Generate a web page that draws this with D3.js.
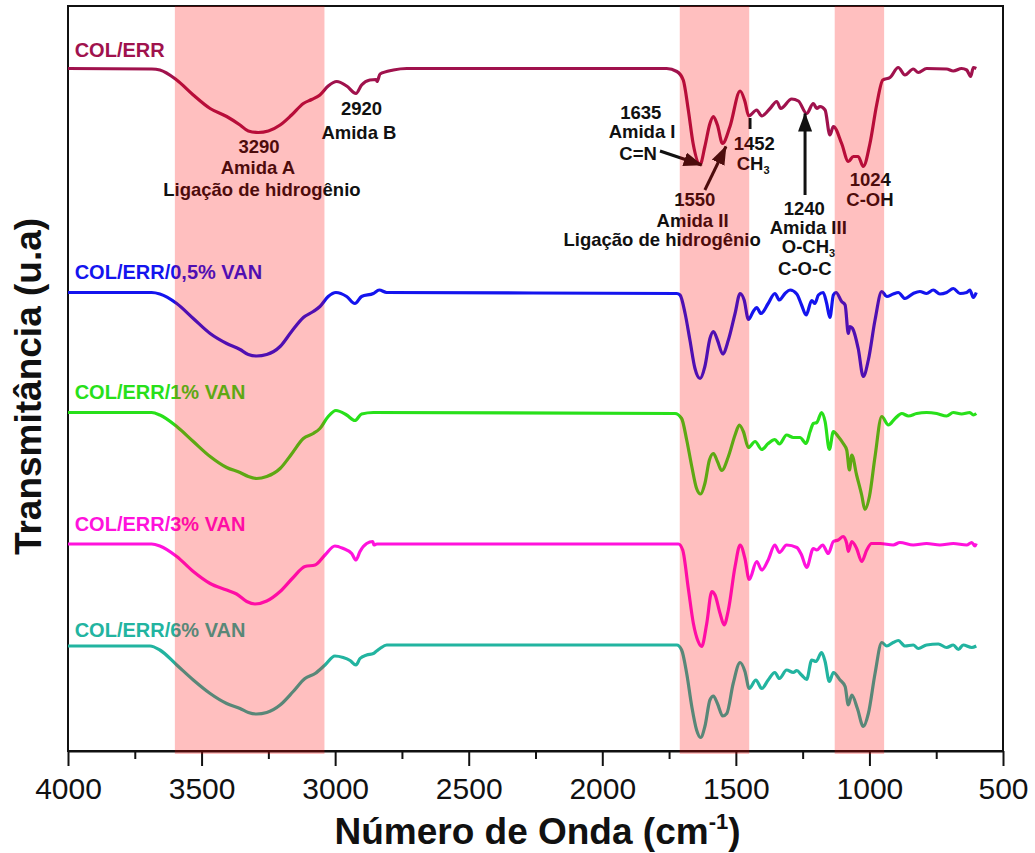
<!DOCTYPE html>
<html>
<head>
<meta charset="utf-8">
<script src="https://cdn.jsdelivr.net/npm/d3@7"></script>
<style>
  html, body { margin: 0; padding: 0; background: #fff; }
  svg { display: block; font-family: "Liberation Sans", Arial, sans-serif; }
</style>
</head>
<body>
<svg id="chart" width="1035" height="853"></svg>
<script>
// FTIR spectra: wavenumber (cm-1) vs. transmittance (a.u., stacked with offsets)
const majorTicks = [4000, 3500, 3000, 2500, 2000, 1500, 1000, 500];
const minorTicks = [3750, 3250, 2750, 2250, 1750, 1250, 750];

const seriesNames = ["COL/ERR", "COL/ERR/0,5% VAN", "COL/ERR/1% VAN", "COL/ERR/3% VAN", "COL/ERR/6% VAN"];
const seriesColors = ["#A0124D", "#1414EE", "#28E01A", "#FF12DC", "#22B4A0"];

const colErr = [
  [4000,136.5],[3686,136.4],[3656,136.2],[3593,134.2],[3531,131.2],[3468,128.5],[3406,126.9],[3356,125.2],
  [3325,124],[3288,123.7],[3250,124],[3206,125.2],[3163,127.2],[3119,129.5],[3088,130.3],[3057,131.2],
  [3026,133],[2994,133.9],[2957,133],[2922,131.5],[2901,133.2],[2870,134.2],[2847,134.3],[2843,133.9],
  [2832,135.4],[2782,136.2],[2732,136.5],[1759,136.5],[1721,135.9],[1697,134.2],[1678,128.2],[1660,121.5],
  [1634,117.3],[1616,120.9],[1597,125.5],[1584,126.9],[1569,125.2],[1550,121.5],[1522,124.9],[1484,132],
  [1466,129.9],[1452,127],[1422,128.2],[1403,127],[1372,128.5],[1347,129.9],[1332,128.5],[1291,130.4],
  [1266,130],[1235,127.5],[1210,129.5],[1197,128.5],[1185,128.9],[1166,128.2],[1148,123.2],[1135,124.9],
  [1104,121.5],[1079,117.9],[1060,118.9],[1042,118.9],[1023,116.9],[998,121.5],[973,129.2],[950,134.2],
  [923,134.7],[892,136.7],[867,135.2],[836,136.4],[817,135.7],[786,136.5],[711,136.4],[686,136],
  [655,136.5],[636,136.2],[621,134.9],[611,136.7],[600,136.5]
];

const van05 = [
  [4000,91.7],[3687,91.7],[3656,91.4],[3593,89.5],[3531,86.5],[3468,83.5],[3406,81.5],[3356,80.3],
  [3325,79.3],[3294,79],[3256,79.3],[3206,80.9],[3163,83.9],[3119,86.7],[3082,87.9],[3057,88.9],
  [3026,90.9],[2997,91.7],[2957,90.9],[2926,89.5],[2901,90.9],[2857,91.5],[2835,92.2],[2807,91.7],
  [1721,91.5],[1709,91.2],[1690,87.5],[1672,82.2],[1653,76.5],[1634,74.5],[1616,76.9],[1597,82.5],
  [1584,83.9],[1569,82.2],[1549,79.4],[1528,82.2],[1503,87.5],[1484,91.5],[1469,90.2],[1453,86.3],
  [1435,87.9],[1422,88.7],[1406,87.5],[1379,89.5],[1354,91.5],[1337,90.2],[1316,91.5],[1297,92.2],
  [1272,91.4],[1254,89.2],[1237,87.2],[1216,90.1],[1204,89.5],[1191,91.2],[1173,91.7],[1160,89.5],
  [1148,86.7],[1135,91.2],[1125,91.7],[1104,89.9],[1091,89.2],[1079,83.5],[1073,84.9],[1063,84.5],
  [1042,80.5],[1023,74.9],[1004,78.2],[979,86.2],[954,91.9],[935,90.9],[911,91.4],[892,91.7],
  [867,90.5],[836,91.5],[811,91.9],[786,91.5],[761,92.2],[736,91.4],[711,91.7],[686,92.5],
  [661,91.5],[636,91.7],[624,92.2],[611,90.7],[600,91.7]
];

const van1 = [
  [4000,67.7],[3687,67.7],[3656,67.2],[3593,64.9],[3531,61.9],[3468,58.9],[3406,56.7],[3356,55.7],
  [3325,54.9],[3294,54.5],[3256,54.9],[3206,56.5],[3163,59.4],[3119,62.5],[3082,63.5],[3057,64.5],
  [3026,66.9],[2997,68.1],[2957,67.2],[2926,66.1],[2901,67.4],[2857,67.7],[1728,67.5],[1703,66.5],
  [1684,62.2],[1665,56.9],[1647,52.5],[1632,51.4],[1616,53.5],[1599,58.2],[1584,59.5],[1569,57.9],
  [1553,56.1],[1528,58.9],[1503,63.2],[1487,65.2],[1472,63.9],[1453,60.7],[1428,61.9],[1403,60.3],
  [1379,61.5],[1354,62.3],[1337,61.4],[1310,63.2],[1285,62.7],[1260,62.7],[1237,61.5],[1222,63.9],
  [1210,65.5],[1197,65.7],[1179,67.7],[1166,65.9],[1150,60.3],[1135,63.9],[1117,62.9],[1098,61.5],
  [1085,60.2],[1075,56.2],[1066,59.2],[1048,55.2],[1029,51.2],[1017,48.3],[1000,50.9],[979,58.9],
  [954,66.9],[929,65.2],[904,66.5],[879,67.5],[854,67],[823,67.5],[786,67.7],[748,67.5],
  [711,67],[686,67.7],[655,67.4],[624,67.7],[611,67.2],[600,67.5]
];

const van3 = [
  [4000,41.4],[3687,41.4],[3656,41],[3593,38.9],[3531,35.9],[3468,33.5],[3406,32.2],[3369,31.4],
  [3331,29.9],[3300,29.4],[3256,30],[3206,31.9],[3157,34.7],[3113,36.9],[3075,37.2],[3038,39.2],
  [3001,41],[2970,40.5],[2938,39.5],[2922,38.2],[2907,39.9],[2882,41.5],[2859,41.9],[2855,41.2],
  [2844,41.4],[1715,41.4],[1699,40.2],[1678,32.5],[1659,25.5],[1641,21.9],[1628,20.9],[1609,25.5],
  [1590,31.9],[1578,31.2],[1559,27.5],[1544,25.2],[1528,28.2],[1503,36.9],[1484,41.2],[1466,38.5],
  [1450,34.3],[1422,37.9],[1403,36.2],[1379,38.2],[1354,41.2],[1337,39.7],[1310,41.2],[1272,40.7],
  [1254,39.2],[1235,36.7],[1210,40.5],[1197,40.2],[1175,41.2],[1154,39.5],[1135,41.9],[1117,42.2],
  [1098,42.9],[1085,41.5],[1079,39.9],[1066,41.9],[1048,40.5],[1029,37.9],[1010,40.2],[992,41.5],
  [960,41.5],[911,41.2],[886,41.7],[836,41.2],[786,41.5],[736,41.2],[686,41.5],[636,41.2],
  [617,41.7],[605,41],[600,41.5]
];

const van6 = [
  [4000,21],[3693,21],[3656,20.2],[3593,17.2],[3531,14.2],[3468,11.5],[3406,9.5],[3356,8.5],
  [3325,7.7],[3294,7.4],[3256,7.7],[3206,9.2],[3157,11.9],[3113,14.5],[3075,15.5],[3038,17.2],
  [3001,19],[2970,18.7],[2944,18.1],[2922,17.2],[2907,18.5],[2882,19.2],[2857,19.5],[2847,19.9],
  [2832,20.5],[2807,21.2],[1721,21.2],[1703,20.2],[1684,15.5],[1665,8.9],[1647,4.2],[1632,2.7],
  [1616,4.9],[1597,10.2],[1584,11],[1569,9.5],[1549,7],[1534,7.5],[1510,13.5],[1484,17.7],
  [1466,15.9],[1450,12.5],[1425,14.2],[1403,12.5],[1379,14.2],[1354,15.7],[1337,14.5],[1310,16.2],
  [1285,15.7],[1272,16.1],[1254,15.2],[1235,14.3],[1216,18.2],[1200,17.9],[1179,19.7],[1166,17.9],
  [1150,13.9],[1135,15.7],[1110,14.2],[1091,12.9],[1079,9.2],[1066,11.2],[1045,8.5],[1023,4.9],
  [1004,7.5],[979,15.5],[954,21.7],[935,21],[911,21.7],[892,22.1],[867,21],[836,21.2],
  [817,20.5],[786,21.2],[742,21.4],[711,20.7],[686,21.2],[667,20.3],[649,21.2],[617,20.7],[600,21]
];

// label anchor (wavenumber, value of text baseline) for each series name
const seriesLabelPos = [[3975,138.8],[3975,94.4],[3975,70.4],[3975,44],[3975,22.8]];

// highlighted bands (cm-1)
const bands = [[3600, 3040], [1710, 1450], [1130, 945]];

// peak annotations: [wavenumber, value, text, anchor]
const peakTexts = [
  [3285, 119.6, "3290", "middle"],
  [3289, 115.4, "Amida A", "middle"],
  [3274, 111.0, "Ligação de hidrogênio", "middle"],
  [2901, 127.2, "2920", "middle"],
  [2911, 122.5, "Amida B", "middle"],
  [1856, 126.5, "1635", "middle"],
  [1851, 122.7, "Amida I", "middle"],
  [1866, 118.3, "C=N", "middle"],
  [1654, 109.0, "1550", "middle"],
  [1662, 104.9, "Amida II", "middle"],
  [1776, 101.0, "Ligação de hidrogênio", "middle"],
  [1431, 120.2, "1452", "middle"],
  [1244, 107.2, "1240", "middle"],
  [1229, 103.4, "Amida III", "middle"],
  [1342, 95.2, "C-O-C", "start"],
  [997, 113.1, "1024", "middle"],
  [998, 109.0, "C-OH", "middle"]
];
// texts with a subscript: [wavenumber, value, main, subscript]
const subTexts = [
  [1497, 116.2, "CH", "3"],
  [1328, 99.6, "O-CH", "3"]
];
// arrows: [from wn, from value, to wn, to value]
const arrows = [
  [1784, 120.0, 1628, 117.2],
  [1616, 112.2, 1537, 120.9],
  [1241, 111.2, 1241, 127.5]
];
// short marker under the 1452 band
const markTicks = [[1447, 126.6, 124.4]];

const svg = d3.select("#chart");
const plotLeft = 68, plotRight = 1003, plotTop = 6, plotBottom = 751;

const x = d3.scaleLinear().domain([4000, 500]).range([plotLeft, plotRight]);
const y = d3.scaleLinear().domain([0, 149]).range([plotBottom, plotTop]);

// frame
svg.append("rect")
  .attr("x", plotLeft).attr("y", plotTop)
  .attr("width", plotRight - plotLeft).attr("height", plotBottom - plotTop)
  .attr("fill", "none").attr("stroke", "#111").attr("stroke-width", 2);

// bottom axis, major ticks
const gx = svg.append("g").attr("transform", `translate(0,${plotBottom})`)
  .call(d3.axisBottom(x).tickValues(majorTicks).tickSize(15).tickSizeOuter(0).tickPadding(12)
    .tickFormat(d3.format("d")));
gx.select(".domain").attr("stroke", "#111").attr("stroke-width", 2);
gx.selectAll(".tick line").attr("stroke", "#111").attr("stroke-width", 2);
gx.selectAll(".tick text").attr("font-size", 30).attr("fill", "#111")
  .attr("font-family", "'Liberation Sans', Arial, sans-serif");

// minor ticks (no labels)
const gm = svg.append("g").attr("transform", `translate(0,${plotBottom})`)
  .call(d3.axisBottom(x).tickValues(minorTicks).tickSize(8).tickSizeOuter(0));
gm.select(".domain").remove();
gm.selectAll(".tick text").remove();
gm.selectAll(".tick line").attr("stroke", "#111").attr("stroke-width", 2);

// spectra
const line = d3.line().x(d => x(d[0])).y(d => y(d[1])).curve(d3.curveMonotoneX);
const allSeries = [colErr, van05, van1, van3, van6];
svg.append("g").selectAll("path").data(allSeries).join("path")
  .attr("d", line)
  .attr("fill", "none")
  .attr("stroke", (d, i) => seriesColors[i])
  .attr("stroke-width", 3.2)
  .attr("stroke-linejoin", "round");

// series names
svg.append("g").selectAll("text").data(seriesNames).join("text")
  .attr("x", (d, i) => x(seriesLabelPos[i][0]))
  .attr("y", (d, i) => y(seriesLabelPos[i][1]))
  .attr("fill", (d, i) => seriesColors[i])
  .attr("font-size", 20).attr("font-weight", "bold")
  .text(d => d);

// annotations
const ann = svg.append("g").attr("fill", "#111").attr("font-size", 18.5).attr("font-weight", "bold");
ann.selectAll("text.pk").data(peakTexts).join("text").attr("class", "pk")
  .attr("x", d => x(d[0])).attr("y", d => y(d[1]))
  .attr("text-anchor", d => d[3])
  .text(d => d[2]);
subTexts.forEach(d => {
  const t = ann.append("text").attr("x", x(d[0])).attr("y", y(d[1]));
  t.append("tspan").text(d[2]);
  t.append("tspan").attr("font-size", 11).attr("dy", 4).text(d[3]);
});

const defs = svg.append("defs");
defs.append("marker").attr("id", "head")
  .attr("markerUnits", "userSpaceOnUse")
  .attr("markerWidth", 20).attr("markerHeight", 14)
  .attr("refX", 18).attr("refY", 7).attr("orient", "auto")
  .append("path").attr("d", "M0,0 L19,7 L0,14 Z").attr("fill", "#111");

svg.append("g").selectAll("line").data(arrows).join("line")
  .attr("x1", d => x(d[0])).attr("y1", d => y(d[1]))
  .attr("x2", d => x(d[2])).attr("y2", d => y(d[3]))
  .attr("stroke", "#111").attr("stroke-width", 3)
  .attr("marker-end", "url(#head)");

svg.append("g").selectAll("line").data(markTicks).join("line")
  .attr("x1", d => x(d[0])).attr("x2", d => x(d[0]))
  .attr("y1", d => y(d[1])).attr("y2", d => y(d[2]))
  .attr("stroke", "#111").attr("stroke-width", 3);

// translucent red bands over the spectra
svg.append("g").selectAll("rect").data(bands).join("rect")
  .attr("x", d => x(d[0]))
  .attr("width", d => x(d[1]) - x(d[0]))
  .attr("y", plotTop)
  .attr("height", plotBottom + 3 - plotTop)
  .attr("fill", "rgba(255,0,0,0.25)");

// axis titles
const xt = svg.append("text")
  .attr("x", (plotLeft + plotRight) / 2 + 2).attr("y", 844)
  .attr("text-anchor", "middle")
  .attr("font-size", 37).attr("font-weight", "bold").attr("fill", "#111");
xt.append("tspan").text("Número de Onda (cm");
xt.append("tspan").attr("font-size", 22).attr("dy", -15).text("-1");
xt.append("tspan").attr("dy", 15).text(")");

svg.append("text")
  .attr("transform", `translate(41,${(plotTop + plotBottom) / 2 + 8}) rotate(-90)`)
  .attr("text-anchor", "middle")
  .attr("font-size", 37).attr("font-weight", "bold").attr("fill", "#111")
  .text("Transmitância (u.a)");
</script>
</body>
</html>
